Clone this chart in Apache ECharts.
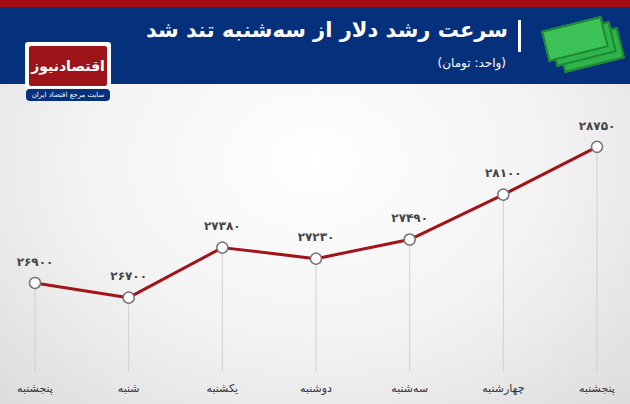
<!DOCTYPE html>
<html><head><meta charset="utf-8">
<script src="https://cdn.jsdelivr.net/npm/echarts@6/dist/echarts.min.js"></script>
<style>
body{margin:0;width:630px;height:404px;overflow:hidden;font-family:"DejaVu Sans",sans-serif;
background:radial-gradient(ellipse at 50% 40%,#ffffff 0%,#f2f2f2 55%,#dcdcdc 100%);position:relative}
#top{position:absolute;left:0;top:0;width:630px;height:7px;background:#a50d14}
#head{position:absolute;left:0;top:7px;width:630px;height:77px;background:#05307c}
#title{position:absolute;right:122px;top:18px;color:#fff;font-size:21px;font-weight:bold;direction:rtl;white-space:nowrap}
#bar{position:absolute;left:518px;top:20px;width:3px;height:32px;background:#fff}
#sub{position:absolute;right:124px;top:56px;color:#fff;font-size:12px;direction:rtl}
.bill{position:absolute;width:58px;height:28px;background:#2fb34a;border:2px solid #1c8a33;transform:rotate(-14deg)}
#logo{position:absolute;left:25px;top:42px;width:86px;height:46px;background:#fff;border-radius:3px}
#logo div{position:absolute;left:4px;top:4px;width:78px;height:40px;background:#9c1318;color:#fff;font-size:14px;font-weight:bold;text-align:center;line-height:40px;border-radius:2px;white-space:nowrap}
#tag{position:absolute;left:26px;top:89px;width:84px;height:12px;background:#05307c;color:#fff;font-size:7px;text-align:center;line-height:12px;border-radius:4px;direction:rtl}
#chart{position:absolute;left:0;top:0;width:630px;height:404px}
</style></head><body>
<div id="top"></div><div id="head"></div>
<div class="bill" style="left:560px;top:34px"></div>
<div class="bill" style="left:552px;top:28px"></div>
<div class="bill" style="left:544px;top:23px;background:#3cc257"></div>
<div id="bar"></div>
<div id="title">سرعت رشد دلار از سه‌شنبه تند شد</div>
<div id="sub">(واحد: تومان)</div>
<div id="logo"><div>اقتصادنیوز</div></div>
<div id="tag">سایت مرجع اقتصاد ایران</div>
<div id="chart"></div>
<script>
var days = ['پنجشنبه', 'شنبه', 'یکشنبه', 'دوشنبه', 'سه‌شنبه', 'چهارشنبه', 'پنجشنبه'];
var rates = [26900, 26700, 27380, 27230, 27490, 28100, 28750];

function fa(n) {
  return String(n).replace(/\d/g, function(d) { return '۰۱۲۳۴۵۶۷۸۹'[d]; });
}

var chart = echarts.init(document.getElementById('chart'), null, { renderer: 'svg' });
chart.setOption({
  animation: false,
  grid: { left: 35, right: 33, top: 110, bottom: 32 },
  xAxis: {
    type: 'category',
    data: days,
    boundaryGap: false,
    axisLine: { show: false },
    axisTick: { show: false },
    axisLabel: { color: '#333', fontSize: 11, fontFamily: 'DejaVu Sans', margin: 11, interval: 0 }
  },
  yAxis: { type: 'value', min: 25690, max: 29250, show: false },
  series: [{
    type: 'bar',
    data: rates,
    barWidth: 1,
    itemStyle: { color: '#d0d0d0' },
    silent: true
  }, {
    type: 'line',
    data: rates,
    symbol: 'circle',
    symbolSize: 11,
    lineStyle: { color: '#a3141a', width: 3 },
    itemStyle: { color: '#fff', borderColor: '#777', borderWidth: 1.5 },
    label: {
      show: true,
      position: 'top',
      distance: 9,
      color: '#444',
      fontSize: 12,
      fontWeight: 'bold',
      fontFamily: 'DejaVu Sans',
      formatter: function(p) { return fa(p.value); }
    }
  }]
});
</script>
</body></html>
